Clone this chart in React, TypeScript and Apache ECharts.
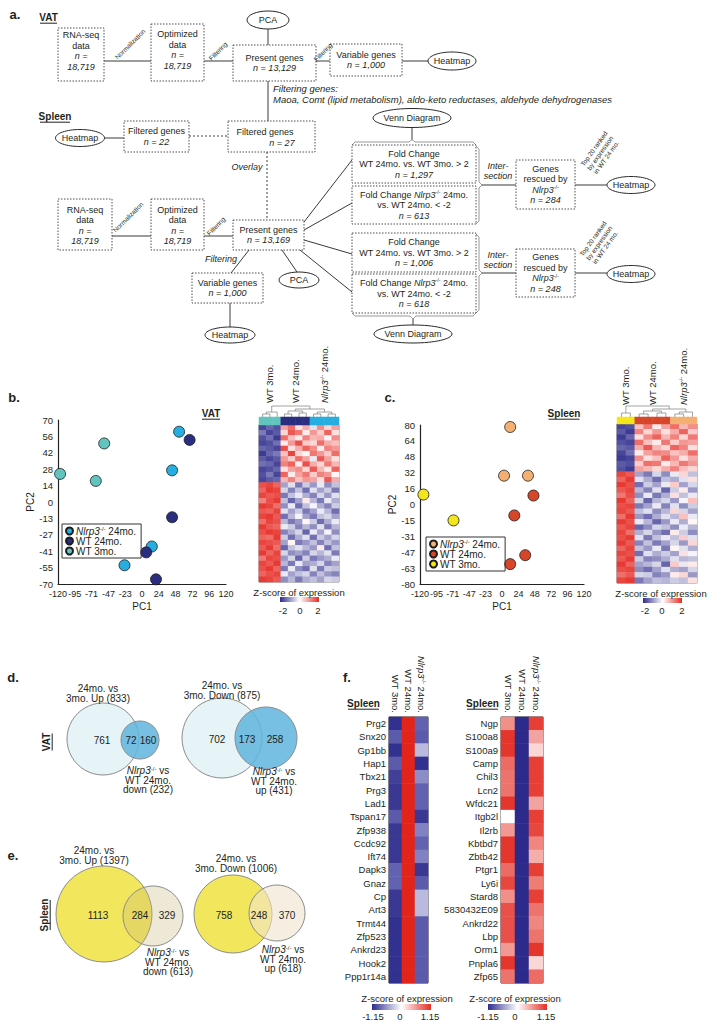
import React, { useEffect, useRef } from "react";
import * as echarts from "echarts";

const F = "'Liberation Sans', Arial, Helvetica, sans-serif";
const INK = "#231f20";

// ---------------- tick labels ----------------
const pc1TickLabels = ["-120", "-95", "-71", "-47", "-23", "0", "24", "48", "72", "96", "120"];
const vatPc2TickLabels = ["-70", "-55", "-41", "-27", "-13", "0", "14", "28", "42", "56", "70"];
const spleenPc2TickLabels = ["-80", "-63", "-47", "-31", "-15", "0", "16", "32", "48", "64", "80"];

// ---------------- PCA points [PC1, PC2] ----------------
const vatNlrp3Pts = [[53, 60], [43, 27], [14, -38], [-25, -54]];
const vatWt24Pts = [[68, 53], [43, -13], [6, -43], [20, -66]];
const vatWt3Pts = [[-117, 24], [-66, 18], [-54, 50]];
const spleenNlrp3Pts = [[12, 78], [3, 29], [38, 29]];
const spleenWt24Pts = [[46, 9], [18, -11], [34, -51], [12, -60]];
const spleenWt3Pts = [[-115, 10], [-71, -16]];

// ---------------- heatmaps b / c ----------------
const groupNames = ["WT 3mo.", "WT 24mo.", "{i|Nlrp3}{s|-/-} 24mo."];
const vatColumnGroups = [0, 0, 0, 1, 1, 1, 1, 2, 2, 2, 2];
const spleenColumnGroups = [0, 0, 1, 1, 1, 1, 2, 2, 2];

const vatHeat = [
  [-1.8, -1.5, -1.7, 0.9, 1.4, 0.3, 0.8, -0.3, 1.1, 0.4, 0.9],
  [-1.3, -1.8, -1.6, 0.4, 1.6, 1.3, 0.2, 1.0, 0.5, 1.5, 0.3],
  [-1.7, -1.4, -1.9, 1.4, 0.6, 0.2, 1.2, 0.7, 0.8, 0.1, 1.1],
  [-1.8, -1.7, -1.4, 0.2, 1.0, 1.7, 0.5, 0.4, 1.4, 0.8, 0.6],
  [-1.5, -1.6, -1.8, 1.7, 0.3, 0.8, 1.5, 1.1, 0.2, 1.2, 1.0],
  [-1.9, -1.5, -1.3, 0.6, 1.8, 0.4, 0.1, 1.3, 1.0, 0.5, 1.4],
  [-1.6, -1.8, -1.6, 1.0, 0.5, 1.4, 0.9, -0.2, 1.6, 0.9, 0.3],
  [-1.4, -1.5, -1.8, 1.2, 1.5, 0.2, 1.7, 0.8, 0.4, 1.3, 0.7],
  [-1.8, -1.7, -1.5, 0.3, 0.9, 1.1, 0.4, 1.6, 0.7, 0.2, 1.5],
  [-1.7, -1.3, -1.8, 1.5, 0.2, 0.9, 1.3, 0.5, 1.2, 1.0, 0.1],
  [-1.8, -1.6, -1.5, 0.7, 1.2, 0.6, 1.0, 0.9, 0.3, 1.6, 0.8],
  [1.7, 1.8, 1.5, -0.9, -0.3, -1.3, -0.5, -1.0, -0.2, -1.1, -0.6],
  [1.5, 1.9, 1.8, -0.4, -1.2, -0.6, -1.4, -0.3, -0.9, -0.5, -1.3],
  [1.8, 1.6, 1.7, -1.3, -0.6, -0.2, -0.8, -1.2, -0.4, -1.0, -0.3],
  [1.2, 1.7, 1.9, -0.6, -1.5, -0.9, 0.2, -0.7, -1.3, -0.2, -0.8],
  [1.9, 1.8, 1.4, -1.1, -0.2, -1.4, -0.6, -0.1, -0.8, -1.2, -0.5],
  [1.6, 1.5, 1.8, -0.3, -0.9, -0.5, -1.3, -0.9, -0.2, -0.7, -1.4],
  [1.8, 1.9, 1.6, -1.4, -0.7, -0.1, -0.9, -1.3, -0.6, -0.4, -0.9],
  [1.4, 1.8, 1.7, -0.7, -1.3, -1.0, 0.1, -0.5, -1.4, -0.8, -0.2],
  [1.9, 1.6, 1.5, -0.2, -0.5, -1.2, -0.7, -1.1, -0.3, -1.3, -0.7],
  [1.7, 1.9, 1.8, -1.2, -0.8, -0.4, -1.5, -0.2, -0.9, -0.1, -1.1],
  [1.5, 1.4, 1.9, -0.5, -1.4, -0.8, -0.3, -1.4, -0.5, -0.9, -0.4],
  [1.8, 1.7, 1.6, -0.9, 0.1, -1.3, -1.0, -0.6, -1.2, -0.6, -1.0],
  [1.6, 1.9, 1.4, -1.5, -0.6, -0.3, -0.7, -1.0, 0.2, -1.4, -0.6],
  [1.9, 1.5, 1.8, -0.4, -1.1, -0.9, -1.2, -0.4, -0.7, -0.3, -1.3],
  [1.3, 1.8, 1.7, -1.0, -0.4, -1.5, -0.5, -1.3, -1.0, -0.8, -0.2],
  [1.8, 1.6, 1.9, -0.7, -1.3, -0.2, -0.9, -0.8, -0.4, -1.2, -0.9],
  [1.7, 1.9, 1.5, -1.3, -0.2, -1.1, -1.4, -0.3, -1.3, -0.5, -0.6],
  [1.5, 1.7, 1.8, -0.2, -0.9, -0.6, -0.4, -1.2, -0.6, -1.0, -1.2],
  [1.9, 1.8, 1.6, -1.1, -0.7, -1.3, -0.8, -0.6, -0.9, -0.4, -0.5],
];

const spleenHeat = [
  [-1.8, -1.7, 0.6, 1.3, 0.2, 0.9, 1.4, 0.7, 1.1],
  [-1.6, -1.9, 1.2, 0.4, 1.0, 0.3, 0.8, 1.5, 0.5],
  [-1.9, -1.5, 0.3, 1.1, 1.5, 0.7, 1.2, 0.4, 1.3],
  [-1.7, -1.8, 1.4, 0.6, 0.2, 1.3, 0.5, 1.0, 0.9],
  [-1.5, -1.6, 0.8, 1.6, 0.7, 0.4, 1.5, 1.2, 0.3],
  [-1.8, -1.4, 0.2, 0.9, 1.2, 1.1, 0.6, 0.8, 1.4],
  [-1.9, -1.8, 1.1, 0.3, 0.6, 1.5, 1.0, 0.3, 0.8],
  [-1.6, -1.7, 0.5, 1.4, 1.3, 0.2, 0.7, 1.3, 1.0],
  [-1.7, -1.9, 0.9, 0.7, 0.4, 0.8, 1.2, 0.6, 0.4],
  [1.8, 1.6, -0.9, -1.3, -0.4, -1.1, -0.2, 0.4, -0.6],
  [1.5, 1.9, -0.3, -0.8, -1.4, -0.6, -0.8, -0.3, 0.3],
  [1.9, 1.7, -1.4, -0.5, -0.9, -0.2, 0.5, -0.9, -0.4],
  [1.6, 1.8, -0.7, -1.2, -0.3, -1.5, -0.5, 0.2, -1.0],
  [1.3, 1.7, -1.1, -0.2, -1.3, -0.8, 0.3, -0.6, -0.2],
  [1.9, 1.5, -0.4, -1.5, -0.7, -0.4, -1.0, -0.1, 0.6],
  [1.7, 1.8, -1.3, -0.9, -0.2, -1.2, -0.3, -1.1, -0.5],
  [1.8, 1.6, -0.6, -0.3, -1.1, -0.7, 0.4, -0.4, -0.9],
  [1.4, 1.9, -1.0, -1.4, -0.8, -0.3, -0.7, 0.6, -0.2],
  [1.9, 1.7, -0.2, -0.7, -1.5, -1.0, -0.2, -0.8, 0.1],
  [1.6, 1.8, -1.5, -1.1, -0.4, -0.6, -1.1, -0.2, -0.7],
  [1.8, 1.4, -0.8, -0.4, -1.0, -1.4, 0.2, -0.5, -1.1],
  [1.7, 1.9, -0.3, -1.3, -0.6, -0.2, -0.6, 0.5, -0.3],
  [1.9, 1.6, -1.2, -0.6, -1.3, -0.9, -0.4, -1.0, 0.4],
  [1.5, 1.8, -0.6, -1.0, -0.2, -1.3, 0.1, -0.3, -0.8],
  [1.8, 1.7, -1.4, -0.3, -0.8, -0.5, -0.9, 0.3, -0.1],
  [1.6, 1.9, -0.5, -1.2, -1.1, -0.8, -0.3, -0.7, -0.6],
  [1.9, 1.5, -0.9, -0.7, -0.4, -1.5, 0.5, -0.2, 0.2],
  [1.7, 1.8, -1.1, -1.4, -0.9, -0.3, -0.8, -0.9, -0.4],
  [1.4, 1.6, -0.4, -0.5, -1.2, -1.0, 0.2, 0.4, -1.0],
  [1.8, 1.9, -1.3, -0.9, -0.6, -0.7, -0.5, -0.6, 0.3],
];

// ---------------- heatmaps f ----------------
const fLeftGenes = ["Prg2", "Snx20", "Gp1bb", "Hap1", "Tbx21", "Prg3", "Lad1", "Tspan17", "Zfp938", "Ccdc92", "Ift74", "Dapk3", "Gnaz", "Cp", "Art3", "Trmt44", "Zfp523", "Ankrd23", "Hook2", "Ppp1r14a"];
const fLeftWt3 = [-1.1, -0.8, -1.1, -0.8, -1.0, -1.05, -1.05, -0.8, -1.05, -1.05, -1.05, -0.75, -0.75, -1.05, -1.05, -1.1, -1.1, -1.1, -1.1, -1.1];
const fLeftWt24 = [1.15, 1.15, 1.15, 1.15, 1.15, 1.15, 1.15, 1.15, 1.15, 1.15, 1.15, 1.15, 1.15, 1.15, 1.15, 1.15, 1.15, 1.15, 1.15, 1.15];
const fLeftNlrp3 = [-0.75, -0.8, -0.3, -1.1, -0.5, -0.75, -0.75, -1.05, -0.55, -0.75, -0.55, -1.05, -0.8, -0.3, -0.3, -0.8, -0.8, -0.8, -0.8, -0.8];

const fRightGenes = ["Ngp", "S100a8", "S100a9", "Camp", "Chil3", "Lcn2", "Wfdc21", "Itgb2l", "Il2rb", "Kbtbd7", "Zbtb42", "Ptgr1", "Ly6i", "Stard8", "5830432E09", "Ankrd22", "Lbp", "Orm1", "Pnpla6", "Zfp65"];
const fRightWt3 = [0.55, 1.05, 1.05, 0.75, 0.7, 0.7, 1.05, 0.0, 0.5, 1.05, 1.05, 0.75, 0.95, 0.55, 0.9, 0.9, 0.9, 0.5, 1.05, 0.7];
const fRightWt24 = [-1.15, -1.15, -1.15, -1.15, -1.15, -1.15, -1.15, -1.15, -1.15, -1.15, -1.15, -1.15, -1.15, -1.15, -1.15, -1.15, -1.15, -1.15, -1.15, -1.15];
const fRightNlrp3 = [1.0, 0.45, 0.2, 1.0, 1.0, 1.0, 0.45, 1.0, 0.95, 0.6, 0.4, 1.0, 0.65, 1.0, 0.7, 0.6, 0.7, 1.05, 0.2, 0.75];

// ---------------- Venn counts [only A, overlap, only B] ----------------
const vatUpVenn = [761, 72, 160];
const vatDownVenn = [702, 173, 258];
const spleenUpVenn = [1113, 284, 329];
const spleenDownVenn = [758, 248, 370];

// ---------------- colours ----------------
const C = {
  vN: "#27aee0", vW24: "#2b2e80", vW3: "#62c4bf",
  sN: "#f3b072", sW24: "#d8462a", sW3: "#f3e61a",
  blue: "#2f2c8e", red: "#e52d23",
};

const rich = (size: number, lh: number) => ({
  i: { fontStyle: "italic", fontSize: size, fontFamily: F, lineHeight: lh },
  s: { fontSize: Math.max(5, size * 0.6), fontFamily: F, lineHeight: size * 0.6, verticalAlign: "top" },
  b: { fontWeight: "bold", fontSize: size, fontFamily: F, lineHeight: lh },
});

function T(x: number, y: number, text: string, size: number, o: any = {}) {
  const lh = o.lh || Math.round(size * 1.15 * 10) / 10;
  return {
    type: "text", x, y, rotation: o.rot || 0, z: 30, silent: true,
    style: {
      text, x: 0, y: 0,
      align: o.align || "center", verticalAlign: o.va || "middle",
      fontSize: size, fontFamily: F,
      fontStyle: o.italic ? "italic" : "normal",
      fontWeight: o.bold ? "bold" : "normal",
      fill: o.color || INK, lineHeight: lh,
      rich: rich(size, lh),
    },
  };
}
function L(x1: number, y1: number, x2: number, y2: number, dashed = false, color = "#3a3a3a") {
  return {
    type: "line", z: 2, silent: true,
    shape: { x1, y1, x2, y2 },
    style: { stroke: color, lineWidth: 1, lineDash: dashed ? [2, 2] : null },
  };
}
function P(points: number[][], color = "#9a9a9a", w = 1) {
  return { type: "polyline", z: 2, silent: true, shape: { points }, style: { stroke: color, lineWidth: w, fill: null } };
}
function E(cx: number, cy: number, rx: number, ry: number, text: string) {
  return [
    { type: "ellipse", z: 6, silent: true, shape: { cx, cy, rx, ry }, style: { fill: "#fff", stroke: "#2a2a2a", lineWidth: 1 } },
    T(cx, cy, text, 9),
  ];
}
function B(x: number, y: number, w: number, h: number, text: string, tx?: number, ty?: number) {
  const els: any[] = [
    { type: "rect", z: 5, silent: true, shape: { x, y, width: w, height: h }, style: { fill: "#fff", stroke: "#3a3a3a", lineWidth: 0.9, lineDash: [1.5, 1.5] } },
  ];
  if (text) els.push(T(tx ?? x + w / 2, ty ?? y + h / 2, text, 9, { lh: 10.5 }));
  return els;
}
function UL(x: number, y: number, text: string, size: number, w: number, vertical = false) {
  if (vertical) {
    return [T(x, y, text, size, { bold: true, rot: Math.PI / 2 }), L(x + size * 0.62, y - w / 2, x + size * 0.62, y + w / 2, false, INK)];
  }
  return [T(x, y, text, size, { bold: true }), L(x - w / 2, y + size * 0.62, x + w / 2, y + size * 0.62, false, INK)];
}
function dendro(x0: number, width: number, n: number, yBase: number, merges: number[][]) {
  const cw = width / n;
  const pos: { x: number; h: number }[] = [];
  for (let i = 0; i < n; i++) pos.push({ x: x0 + cw * (i + 0.5), h: 0 });
  const els: any[] = [];
  merges.forEach(([a, b, h]) => {
    const A = pos[a], Bp = pos[b];
    els.push(P([[A.x, yBase - A.h], [A.x, yBase - h], [Bp.x, yBase - h], [Bp.x, yBase - Bp.h]], "#8a8a8a", 0.8));
    pos.push({ x: (A.x + Bp.x) / 2, h });
  });
  return els;
}
function gradBar(x: number, y: number, w: number, h: number) {
  return {
    type: "rect", z: 5, silent: true, shape: { x, y, width: w, height: h },
    style: {
      fill: new echarts.graphic.LinearGradient(0, 0, 1, 0, [
        { offset: 0, color: C.blue }, { offset: 0.5, color: "#ffffff" }, { offset: 1, color: C.red },
      ]),
    },
  };
}
function venn(big: number[], small: number[], bigFill: string, smallFill: string, counts: number[], topLabel: number[], topText: string, botLabel: number[], botText: string, numX: number[]) {
  const y = big[1];
  return [
    { type: "circle", z: 4, silent: true, shape: { cx: big[0], cy: big[1], r: big[2] }, style: { fill: bigFill, stroke: "#8c8c8c", lineWidth: 1 } },
    { type: "circle", z: 5, silent: true, shape: { cx: small[0], cy: small[1], r: small[2] }, style: { fill: smallFill, stroke: "#8c8c8c", lineWidth: 1 } },
    T(numX[0], y + 1, String(counts[0]), 10),
    T(numX[1], y + 1, String(counts[1]), 10),
    T(numX[2], y + 1, String(counts[2]), 10),
    T(topLabel[0], topLabel[1], topText, 10, { lh: 10 }),
    T(botLabel[0], botLabel[1], botText, 10, { lh: 9.5 }),
  ];
}

// layout
const G = {
  bSc: { left: 58, top: 420, width: 168, height: 164 },
  cSc: { left: 420, top: 425, width: 164, height: 159 },
  bHm: { left: 259, top: 425, width: 80, height: 157 },
  bBar: { left: 259, top: 417, width: 80, height: 8 },
  cHm: { left: 617, top: 424, width: 80, height: 159 },
  cBar: { left: 617, top: 417, width: 80, height: 7 },
  fL: { left: 389, top: 717, width: 39, height: 266 },
  fR: { left: 501, top: 717, width: 42, height: 266 },
};

const legendNames: Record<string, string> = {
  vN: "{i|Nlrp3}{s|-/-} 24mo.", vW24: "WT 24mo.", vW3: "WT 3mo.",
  sN: "{i|Nlrp3}{s|-/-} 24mo.", sW24: "WT 24mo.", sW3: "WT 3mo.",
};

function buildOption() {
  const toCells = (m: number[][]) => m.flatMap((row, r) => row.map((v, c) => [c, r, v]));
  const colsToCells = (cols: number[][]) => cols.flatMap((col, c) => col.map((v, r) => [c, r, v]));
  const idx = (n: number) => Array.from({ length: n }, (_, i) => String(i));

  const pcaX = (gridIndex: number) => ({
    gridIndex, type: "value", min: -120, max: 120, interval: 24,
    name: "PC1", nameLocation: "middle", nameGap: 17,
    nameTextStyle: { fontSize: 10, color: INK, fontFamily: F },
    axisLine: { show: true, onZero: false, lineStyle: { color: "#222", width: 1.2 } },
    axisTick: { show: false }, splitLine: { show: false },
    axisLabel: {
      fontSize: 9, color: INK, margin: 5, fontFamily: F, showMinLabel: true, showMaxLabel: true, hideOverlap: false,
      formatter: (v: number) => pc1TickLabels[Math.round((v + 120) / 24)] ?? "",
    },
  });
  const pcaY = (gridIndex: number, min: number, interval: number, labels: string[]) => ({
    gridIndex, type: "value", min, max: -min, interval,
    name: "PC2", nameLocation: "middle", nameGap: 22,
    nameTextStyle: { fontSize: 10, color: INK, fontFamily: F },
    axisLine: { show: true, onZero: false, lineStyle: { color: "#222", width: 1.2 } },
    axisTick: { show: false }, splitLine: { show: false },
    axisLabel: {
      fontSize: 9.5, color: INK, margin: 5, fontFamily: F, showMinLabel: true, showMaxLabel: true,
      formatter: (v: number) => labels[Math.round((v - min) / interval)] ?? "",
    },
  });
  const hidCat = (gridIndex: number, n: number, inverse = false) => ({ gridIndex, type: "category", data: idx(n), show: false, inverse });

  const scatter = (name: string, axis: number, data: number[][], color: string) => ({
    type: "scatter", name, xAxisIndex: axis, yAxisIndex: axis, data, symbolSize: 11,
    itemStyle: { color, borderColor: "#1d1d1d", borderWidth: 0.8, opacity: 1 },
    emphasis: { disabled: true },
  });

  const geneAxis = (gridIndex: number, genes: string[]) => ({
    gridIndex, type: "category", data: genes, inverse: true,
    axisLine: { show: false }, axisTick: { show: false },
    axisLabel: { fontSize: 9.5, color: INK, margin: 3, fontFamily: F },
  });
  const groupAxis = (gridIndex: number) => ({
    gridIndex, type: "category", data: groupNames, position: "top",
    axisLine: { show: false }, axisTick: { show: false },
    axisLabel: { fontSize: 9.5, color: INK, margin: 4, rotate: 90, fontFamily: F, interval: 0, rich: rich(9.5, 11) },
  });

  const legend = (names: string[], left: number, top: number) => ({
    data: names, left, top, orient: "vertical", itemGap: 0, itemWidth: 7, itemHeight: 7,
    padding: [2, 5, 2, 3], borderColor: "#333", borderWidth: 1, icon: "circle",
    selectedMode: false,
    formatter: (n: string) => legendNames[n],
    textStyle: { fontSize: 10, fontFamily: F, color: INK, lineHeight: 10, padding: [0, 0, 0, -2], rich: rich(10, 10) },
  });

  const graphics: any[] = [];
  const add = (...e: any[]) => e.forEach((x) => (Array.isArray(x) ? graphics.push(...x) : graphics.push(x)));
  const rot45 = Math.PI / 4;

  // ---------- panel a ----------
  add(T(15, 14, "a.", 13, { bold: true }));
  add(UL(48.5, 17, "VAT", 10, 17));
  add(B(58, 28, 46, 53, "RNA-seq\ndata\n{i|n =}\n{i|18,719}", 81, 51));
  add(L(104, 61, 151, 61), T(130, 44, "Normalization", 6.5, { rot: rot45 }));
  add(B(151, 24, 53, 57, "Optimized\ndata\n{i|n =}\n{i|18,719}", 177.5, 50));
  add(L(204, 61, 233, 61), T(218, 51, "Filtering", 6.5, { rot: rot45 }));
  add(B(233, 45, 83, 36, "Present genes\n{i|n = 13,129}"));
  add(E(268, 20, 21, 9, "PCA"), L(268, 29, 268, 45));
  add(L(316, 61, 330, 61), T(323, 52, "Filtering", 6.5, { rot: rot45 }));
  add(B(330, 44, 72, 32, "Variable genes\n{i|n = 1,000}"));
  add(L(402, 61, 428, 61), E(452, 61, 24, 9, "Heatmap"));
  add(L(268, 81, 268, 121));
  add(T(273, 88, "Filtering genes:", 9.5, { align: "left", italic: true }));
  add(T(273, 99, "Maoa, Comt (lipid metabolism), aldo-keto reductases, aldehyde dehydrogenases", 9.5, { align: "left", italic: true }));

  add(UL(55, 116, "Spleen", 10, 30));
  add(E(80, 138, 24.5, 8.5, "Heatmap"), L(104, 138, 124, 138));
  add(B(124, 121, 65, 31, "Filtered genes\n{i|n = 22}"));
  add(L(189, 136, 228, 136, true));
  add(B(228, 121, 87, 31, ""), T(265, 132, "Filtered genes", 9), T(282, 143, "{i|n = 27}", 9));
  add(L(267, 152, 267, 220, true), T(247, 167, "Overlay", 9, { italic: true }));

  add(B(58, 199, 54, 51, "RNA-seq\ndata\n{i|n =}\n{i|18,719}", 85, 225.5));
  add(L(112, 236, 151, 236), T(128, 217, "Normalization", 6.5, { rot: rot45 }));
  add(B(151, 199, 53, 51, "Optimized\ndata\n{i|n =}\n{i|18,719}", 177.5, 225.5));
  add(L(204, 236, 233, 236), T(216, 226, "Filtering", 6.5, { rot: rot45 }));
  add(B(233, 220, 71, 30, "Present genes\n{i|n = 13,169}"));
  add(L(304, 222, 352, 160), L(304, 230, 352, 203), L(304, 240, 352, 254), L(300, 250, 352, 292));
  add(L(249, 250, 231, 273), T(221, 259, "Filtering", 9, { italic: true }));
  add(L(282, 250, 297, 272), E(299, 280, 20, 8, "PCA"));
  add(B(192, 273, 71, 30, "Variable genes\n{i|n = 1,000}"));
  add(L(230, 303, 230, 327), E(230, 335, 25, 8, "Heatmap"));

  add(E(412, 118, 39, 9.5, "Venn Diagram"), L(412, 127.5, 412, 140));
  add(P([[352, 145], [355, 142], [409, 142], [412, 139.5], [415, 142], [473, 142], [476, 145]]));
  add(B(352, 145, 124, 38, "Fold Change\nWT 24mo. vs. WT 3mo. > 2\n{i|n = 1,297}"));
  add(B(352, 186, 124, 38, "Fold Change {i|Nlrp3}{s|-/-} 24mo.\nvs. WT 24mo. < -2\n{i|n = 613}"));
  add(P([[476, 146], [479, 149], [479, 182], [482, 185], [479, 188], [479, 221], [476, 224]]));
  add(L(482, 185, 516, 185), T(498, 171, "Inter-\nsection", 9, { italic: true, lh: 10 }));
  add(B(516, 160, 59, 49, "Genes\nrescued by\n{i|Nlrp3}{s|-/-}\n{i|n = 284}"));
  add(L(575, 185, 607, 185), E(631, 185, 24, 8.5, "Heatmap"));
  add(T(600, 153, "Top 20 ranked\nby expression\nin WT 24 mo.", 6.5, { rot: 0.95, lh: 7.5 }));

  add(B(352, 233, 124, 39, "Fold Change\nWT 24mo. vs. WT 3mo. > 2\n{i|n = 1,006}"));
  add(B(352, 274, 124, 39, "Fold Change {i|Nlrp3}{s|-/-} 24mo.\nvs. WT 24mo. < -2\n{i|n = 618}"));
  add(P([[476, 234], [479, 237], [479, 270], [482, 273], [479, 276], [479, 310], [476, 313]]));
  add(L(482, 273, 516, 273), T(498, 260, "Inter-\nsection", 9, { italic: true, lh: 10 }));
  add(B(516, 249, 59, 48, "Genes\nrescued by\n{i|Nlrp3}{s|-/-}\n{i|n = 248}"));
  add(L(575, 273, 607, 273), E(631, 274, 24, 8.5, "Heatmap"));
  add(T(599, 243, "Top 20 ranked\nby expression\nin WT 24 mo.", 6.5, { rot: 0.95, lh: 7.5 }));
  add(P([[352, 313], [355, 316], [410, 316], [413, 319], [416, 316], [473, 316], [476, 313]]));
  add(L(413, 319, 413, 325), E(413, 334, 39, 9, "Venn Diagram"));

  // ---------- panel b / c annotations ----------
  add(T(14, 397, "b.", 13, { bold: true }), UL(211, 413, "VAT", 10, 18));
  add(T(390, 397, "c.", 13, { bold: true }), UL(564, 413, "Spleen", 10, 31));
  const grpLabelX = (g: any, groups: number[]) => [0, 1, 2].map((k) => {
    const cols = groups.map((v, i) => (v === k ? i : -1)).filter((i) => i >= 0);
    const cw = g.width / groups.length;
    return g.left + cw * ((cols[0] + cols[cols.length - 1]) / 2 + 0.5);
  });
  grpLabelX(G.bBar, vatColumnGroups).forEach((x, k) => add(T(x, 403, groupNames[k], 9.5, { rot: Math.PI / 2, align: "left" })));
  grpLabelX(G.cBar, spleenColumnGroups).forEach((x, k) => add(T(x, 405, groupNames[k], 9.5, { rot: Math.PI / 2, align: "left" })));
  add(dendro(G.bBar.left, G.bBar.width, 11, G.bBar.top, [[0, 1, 3], [11, 2, 5], [3, 4, 3], [5, 6, 4], [7, 8, 3], [9, 10, 3], [13, 14, 6], [15, 16, 5], [17, 18, 8], [12, 19, 11]]));
  add(dendro(G.cBar.left, G.cBar.width, 9, G.cBar.top, [[0, 1, 4], [2, 3, 3], [4, 5, 4], [10, 11, 6], [6, 7, 3], [13, 8, 5], [12, 14, 8], [9, 15, 11]]));

  add(T(299, 592, "Z-score of expression", 9.5), gradBar(280, 597, 39, 5), T(283, 610, "-2", 9.5), T(300, 610, "0", 9.5), T(318, 610, "2", 9.5));
  add(T(661, 593, "Z-score of expression", 9.5), gradBar(643, 598, 39, 5), T(645, 610, "-2", 9.5), T(662, 610, "0", 9.5), T(682, 610, "2", 9.5));

  // ---------- panel d / e ----------
  add(T(13, 677, "d.", 13, { bold: true }), UL(46, 742, "VAT", 10, 17, true));
  add(venn([103, 739, 36], [140, 740, 19], "#e6f4f8", "rgba(95,180,222,0.85)", vatUpVenn,
    [98, 693], `24mo. vs\n3mo. Up (${vatUpVenn[0] + vatUpVenn[1]})`,
    [148, 780], `{i|Nlrp3}{s|-/-} vs\nWT 24mo.\ndown (${vatUpVenn[1] + vatUpVenn[2]})`, [102, 131, 148]));
  add(venn([222, 738, 40], [266, 738, 31], "#e6f4f8", "rgba(95,180,222,0.85)", vatDownVenn,
    [222, 690], `24mo. vs\n3mo. Down (${vatDownVenn[0] + vatDownVenn[1]})`,
    [274, 781], `{i|Nlrp3}{s|-/-} vs\nWT 24mo.\nup (${vatDownVenn[1] + vatDownVenn[2]})`, [217, 247, 275]));

  add(T(13, 855, "e.", 13, { bold: true }), UL(44, 915, "Spleen", 10, 30, true));
  add(venn([104, 914, 48], [153, 916, 30], "#f2e75c", "rgba(200,180,120,0.3)", spleenUpVenn,
    [94, 855], `24mo. vs\n3mo. Up (${spleenUpVenn[0] + spleenUpVenn[1]})`,
    [168, 962], `{i|Nlrp3}{s|-/-} vs\nWT 24mo.\ndown (${spleenUpVenn[1] + spleenUpVenn[2]})`, [98, 140, 167]));
  add(venn([233, 914, 39], [277, 913, 28], "#f2e75c", "rgba(240,228,205,0.6)", spleenDownVenn,
    [236, 863], `24mo. vs\n3mo. Down (${spleenDownVenn[0] + spleenDownVenn[1]})`,
    [283, 959], `{i|Nlrp3}{s|-/-} vs\nWT 24mo.\nup (${spleenDownVenn[1] + spleenDownVenn[2]})`, [224, 259, 287]));

  // ---------- panel f annotations ----------
  add(T(347, 677, "f.", 13, { bold: true }));
  add(UL(363.5, 703, "Spleen", 10, 31), UL(482.5, 703, "Spleen", 10, 31));
  add(T(407, 998, "Z-score of expression", 9.5), gradBar(372, 1004, 59, 6), T(373, 1016, "-1.15", 9.5), T(400, 1016, "0", 9.5), T(430, 1016, "1.15", 9.5));
  add(T(515, 998, "Z-score of expression", 9.5), gradBar(488, 1004, 59, 6), T(488, 1016, "-1.15", 9.5), T(515, 1016, "0", 9.5), T(546, 1016, "1.15", 9.5));

  const gridOf = (g: any, border = "") => ({ ...g, containLabel: false, show: !!border, borderColor: border || "transparent", borderWidth: border ? 1 : 0, backgroundColor: "transparent" });

  return {
    animation: false,
    backgroundColor: "#ffffff",
    textStyle: { fontFamily: F },
    grid: [
      gridOf(G.bSc), gridOf(G.cSc), gridOf(G.bHm, "#777"), gridOf(G.bBar), gridOf(G.cHm, "#777"), gridOf(G.cBar),
      gridOf(G.fL, "#333"), gridOf(G.fR, "#333"),
    ],
    xAxis: [
      pcaX(0), pcaX(1), hidCat(2, 11), hidCat(3, 11), hidCat(4, 9), hidCat(5, 9), groupAxis(6), groupAxis(7),
    ],
    yAxis: [
      pcaY(0, -70, 14, vatPc2TickLabels), pcaY(1, -80, 16, spleenPc2TickLabels),
      hidCat(2, vatHeat.length, true), hidCat(3, 1), hidCat(4, spleenHeat.length, true), hidCat(5, 1),
      geneAxis(6, fLeftGenes), geneAxis(7, fRightGenes),
    ],
    visualMap: [
      { type: "piecewise", show: false, seriesIndex: 7, dimension: 2, pieces: [{ value: 0, color: C.vW3 }, { value: 1, color: C.vW24 }, { value: 2, color: C.vN }] },
      { type: "piecewise", show: false, seriesIndex: 9, dimension: 2, pieces: [{ value: 0, color: C.sW3 }, { value: 1, color: C.sW24 }, { value: 2, color: C.sN }] },
      { type: "continuous", show: false, seriesIndex: [6, 8], dimension: 2, min: -2, max: 2, inRange: { color: ["#34318f", "#ffffff", "#e7302a"] } },
      { type: "continuous", show: false, seriesIndex: [10, 11], dimension: 2, min: -1.15, max: 1.15, inRange: { color: ["#2c2a8a", "#7b7bc0", "#ffffff", "#f08a84", "#e3241b"] } },
    ],
    legend: [legend(["vN", "vW24", "vW3"], 62, 524), legend(["sN", "sW24", "sW3"], 426, 537)],
    series: [
      scatter("vN", 0, vatNlrp3Pts, C.vN), scatter("vW24", 0, vatWt24Pts, C.vW24), scatter("vW3", 0, vatWt3Pts, C.vW3),
      scatter("sN", 1, spleenNlrp3Pts, C.sN), scatter("sW24", 1, spleenWt24Pts, C.sW24), scatter("sW3", 1, spleenWt3Pts, C.sW3),
      { type: "heatmap", xAxisIndex: 2, yAxisIndex: 2, data: toCells(vatHeat), emphasis: { disabled: true } },
      { type: "heatmap", xAxisIndex: 3, yAxisIndex: 3, data: vatColumnGroups.map((g, i) => [i, 0, g]), emphasis: { disabled: true } },
      { type: "heatmap", xAxisIndex: 4, yAxisIndex: 4, data: toCells(spleenHeat), emphasis: { disabled: true } },
      { type: "heatmap", xAxisIndex: 5, yAxisIndex: 5, data: spleenColumnGroups.map((g, i) => [i, 0, g]), emphasis: { disabled: true } },
      { type: "heatmap", xAxisIndex: 6, yAxisIndex: 6, data: colsToCells([fLeftWt3, fLeftWt24, fLeftNlrp3]), emphasis: { disabled: true } },
      { type: "heatmap", xAxisIndex: 7, yAxisIndex: 7, data: colsToCells([fRightWt3, fRightWt24, fRightNlrp3]), emphasis: { disabled: true } },
    ],
    graphic: { elements: graphics },
  };
}

export default function App() {
  const ref = useRef<HTMLDivElement>(null);
  useEffect(() => {
    const chart = echarts.init(ref.current as HTMLDivElement, null, { renderer: "svg" });
    chart.setOption(buildOption() as any);
    return () => chart.dispose();
  }, []);
  return <div ref={ref} style={{ position: "absolute", left: 0, top: 0, width: 714, height: 1029, background: "#fff" }} />;
}
